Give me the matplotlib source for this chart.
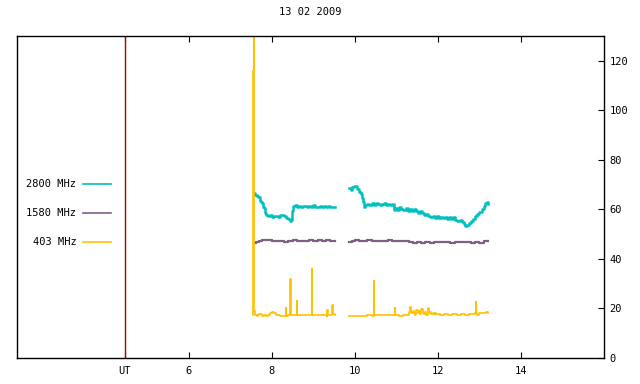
import matplotlib
matplotlib.use('Agg')
import matplotlib.pyplot as plt

plt.rcParams['font.family'] = ['DejaVu Sans Mono']

title = '13 02 2009'
labels = ['2800 MHz', '1580 MHz', '403 MHz']
colors = ['#00c0c0', '#7f6084', '#ffc000']
ut_hour = 4.45

# 2800 MHz, two segments
t28a = [7.57, 7.60, 7.63, 7.66, 7.69, 7.71, 7.73, 7.75, 7.78, 7.81, 7.83, 7.86, 7.90, 7.95, 8.00,
        8.05, 8.10, 8.15, 8.20, 8.25, 8.30, 8.35, 8.40, 8.43, 8.46, 8.48, 8.50, 8.55, 8.60, 8.65,
        8.70, 8.75, 8.80, 8.85, 8.90, 8.95, 9.00, 9.05, 9.10, 9.15, 9.20, 9.25, 9.30, 9.35, 9.40,
        9.45, 9.52]
v28a = [66.5, 65.8, 65.5, 65.0, 64.8, 63.5, 62.8, 62.5, 61.0, 60.5, 58.5, 57.8, 57.2, 57.6, 57.0,
        57.3, 57.5, 57.0, 57.6, 57.8, 57.2, 56.6, 56.2, 55.5, 55.8, 59.5, 61.2, 61.6, 61.0, 61.4,
        60.8, 61.2, 61.5, 60.9, 61.3, 61.0, 61.6, 61.1, 60.8, 61.3, 61.0, 61.4, 60.9, 61.2, 61.0,
        61.1, 61.0]
t28b = [9.86, 9.90, 9.94, 9.98, 10.02, 10.06, 10.10, 10.14, 10.17, 10.19, 10.21, 10.25, 10.30, 10.35,
        10.40, 10.45, 10.50, 10.55, 10.60, 10.65, 10.70, 10.75, 10.80, 10.85, 10.90, 10.93, 10.97,
        11.02, 11.07, 11.12, 11.17, 11.22, 11.27, 11.32, 11.37, 11.42, 11.47, 11.52, 11.57, 11.62,
        11.67, 11.72, 11.77, 11.82, 11.87, 11.92, 11.97, 12.02, 12.07, 12.12, 12.17, 12.22, 12.27,
        12.32, 12.37, 12.42, 12.47, 12.52, 12.57, 12.62, 12.66, 12.70, 12.75, 12.80, 12.85, 12.90,
        12.95, 13.00, 13.05, 13.10, 13.14, 13.18, 13.20]
v28b = [68.5, 68.0, 69.0, 69.5, 69.3, 68.2, 67.0, 66.2, 64.5, 63.0, 60.8, 61.8, 62.2, 61.6,
        62.4, 61.8, 62.6, 62.0, 61.7, 62.1, 62.5, 61.8, 62.0, 61.6, 62.2, 59.8, 60.5,
        59.9, 60.8, 60.1, 59.6, 60.4, 59.5, 60.2, 59.3, 60.0, 59.2, 58.6, 59.4, 58.5,
        57.8, 58.3, 57.5, 56.8, 57.2, 56.5, 57.4, 56.6, 57.1, 56.4, 57.0, 56.3, 56.8,
        56.2, 56.9, 55.6, 55.2, 55.8, 54.9, 54.0, 53.2, 53.8, 54.5, 55.5, 56.3, 57.2,
        58.3, 59.0, 60.2, 61.5, 62.5, 62.8, 62.2]

# 1580 MHz
t15a = [7.57, 7.62, 7.68, 7.75, 7.82, 7.90, 8.00, 8.10, 8.20, 8.30, 8.40, 8.50, 8.60, 8.70, 8.80,
        8.90, 9.00, 9.10, 9.20, 9.30, 9.40, 9.52]
v15a = [46.5, 46.9, 47.3, 47.6, 47.8, 47.5, 47.3, 47.4, 47.2, 47.0, 47.3, 47.6, 47.3, 47.4, 47.2,
        47.5, 47.4, 47.6, 47.3, 47.5, 47.2, 47.4]
t15b = [9.86, 9.92, 10.0, 10.1, 10.2, 10.3, 10.4, 10.5, 10.6, 10.7, 10.8, 10.9, 11.0, 11.1, 11.2,
        11.3, 11.4, 11.5, 11.6, 11.7, 11.8, 11.9, 12.0, 12.1, 12.2, 12.3, 12.4, 12.5, 12.6, 12.7,
        12.8, 12.9, 13.0, 13.1, 13.2]
v15b = [46.8, 47.3, 47.7, 47.4, 47.3, 47.5, 47.3, 47.4, 47.2, 47.4, 47.6, 47.3, 47.2, 47.4, 47.3,
        46.8, 46.6, 46.7, 46.5, 46.8, 46.6, 46.7, 46.9, 46.8, 46.7, 46.6, 46.8, 46.9, 46.7, 46.8,
        46.5, 46.7, 46.6, 47.1, 47.2]

# 403 MHz
t4a = [7.545, 7.55, 7.555, 7.565, 7.57, 7.575, 7.58, 7.60, 7.63, 7.66, 7.70, 7.75, 7.80, 7.85, 7.90,
       7.95, 8.00, 8.05, 8.10, 8.15, 8.20, 8.25, 8.30, 8.33, 8.335, 8.34, 8.40, 8.44, 8.445, 8.45,
       8.55, 8.59, 8.595, 8.60, 8.70, 8.80, 8.90, 8.95, 8.955, 8.96, 9.05, 9.15, 9.25, 9.33, 9.335,
       9.34, 9.40, 9.45, 9.455, 9.46, 9.52]
v4a = [17.5, 116, 116, 200, 200, 30, 19, 17.5, 16.8, 17.3, 17.8, 16.9, 17.5, 17.0, 17.3,
       18.2, 18.6, 18.0, 17.3, 17.2, 17.0, 17.1, 17.0, 17.2, 20.0, 17.1, 17.3, 17.2, 32, 17.4,
       17.5, 17.3, 23, 17.5, 17.4, 17.3, 17.2, 17.3, 36, 17.5, 17.2, 17.4, 17.3, 17.1, 19.5,
       17.2, 17.4, 17.5, 21.5, 17.6, 17.5]
t4b = [9.86, 9.95, 10.0, 10.1, 10.2, 10.3, 10.4, 10.46, 10.465, 10.47, 10.55, 10.65, 10.75, 10.85,
       10.96, 10.965, 10.97, 11.05, 11.15, 11.25, 11.30, 11.33, 11.36, 11.39, 11.42, 11.45, 11.48,
       11.51, 11.54, 11.57, 11.60, 11.63, 11.66, 11.69, 11.72, 11.75, 11.78, 11.81, 11.84, 11.87,
       11.90, 11.93, 11.96, 12.00, 12.05, 12.15, 12.25, 12.35, 12.45, 12.55, 12.65, 12.75, 12.85,
       12.90, 12.905, 12.92, 12.95, 13.0, 13.05, 13.1, 13.15, 13.2]
v4b = [17.0, 16.8, 17.0, 16.9, 17.1, 17.2, 17.1, 17.2, 31, 17.4, 17.3, 17.4, 17.3, 17.2,
       17.3, 20.2, 17.3, 17.1, 17.2, 17.5, 18.5, 20.5, 18.0, 19.0, 18.2, 17.5, 19.2,
       18.0, 18.8, 17.6, 19.6, 18.2, 17.8, 18.5, 17.5, 20.2, 18.0, 18.6, 17.7, 18.3,
       17.8, 18.0, 17.6, 17.9, 17.5, 17.7, 17.4, 17.8, 17.5, 17.6, 17.4, 17.7, 17.8,
       18.0, 22.7, 18.1, 17.4, 18.0, 18.3, 18.2, 18.4, 18.3]

xticks = [6, 8, 10, 12, 14]
yticks = [0, 20, 40, 60, 80, 100, 120]

fig = plt.figure(figsize=(6.4, 3.84), dpi=100)
ax = fig.add_axes([17/640, 1 - 358/384, 587/640, 322/384])
ax.set_xlim(1.86, 16.0)
ax.set_ylim(0, 130)

ax.axvline(ut_hour, color='#b00000', lw=1.0)

ax.plot(t28a, v28a, color=colors[0], lw=1.8, drawstyle='steps-post')
ax.plot(t28b, v28b, color=colors[0], lw=1.8, drawstyle='steps-post')
ax.plot(t15a, v15a, color=colors[1], lw=1.6, drawstyle='steps-post')
ax.plot(t15b, v15b, color=colors[1], lw=1.6, drawstyle='steps-post')
ax.plot(t4a, v4a, color=colors[2], lw=1.2, drawstyle='steps-post')
ax.plot(t4b, v4b, color=colors[2], lw=1.2, drawstyle='steps-post')

# legend drawn by hand, gnuplot style
for i, (lab, c) in enumerate(zip(labels, colors)):
    y = 0.54 - i * 0.09
    ax.text(0.101, y, lab, transform=ax.transAxes, ha='right', va='center', fontsize=7.5)
    ax.plot([0.113, 0.160], [y, y], transform=ax.transAxes, color=c, lw=1.2)

ax.set_xticks([ut_hour] + xticks)
ax.set_xticklabels(['UT'] + [str(x) for x in xticks])
ax.set_yticks(yticks)
ax.set_yticklabels([str(y) for y in yticks])
ax.yaxis.tick_right()
ax.tick_params(axis='x', direction='in', top=True, bottom=True, length=4, labelsize=7.5, pad=6)
ax.tick_params(axis='y', direction='in', left=False, right=True, length=4, labelsize=7.5, pad=4)
for s in ax.spines.values():
    s.set_linewidth(1.0)

ax.set_title(title, fontsize=7.5, pad=15)

fig.savefig('out.png', dpi=100)
